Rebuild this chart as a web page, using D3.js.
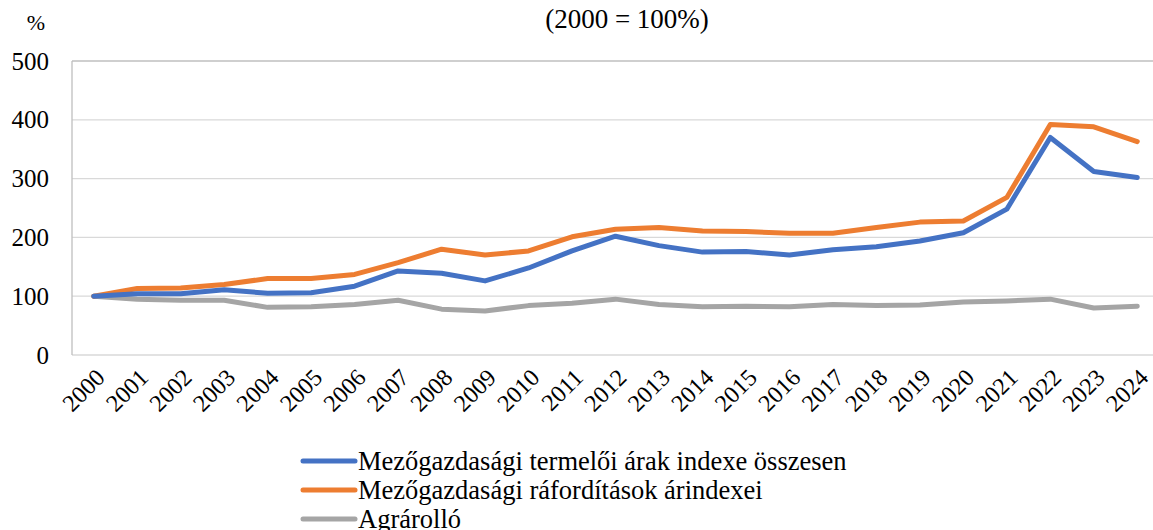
<!DOCTYPE html>
<html>
<head>
<meta charset="utf-8">
<script src="https://cdn.jsdelivr.net/npm/d3@7"></script>
<style>
  body { margin: 0; background: #fff; }
  svg, svg text { font-family: "Liberation Serif", "Tinos", "Times New Roman", "DejaVu Serif", serif !important; }
</style>
</head>
<body>
<svg id="chart"></svg>
<script>
const width = 1153;
const height = 530;
const margin = { top: 61, right: -6, bottom: 175, left: 72 };

const years = ["2000", "2001", "2002", "2003", "2004", "2005", "2006", "2007", "2008", "2009",
               "2010", "2011", "2012", "2013", "2014", "2015", "2016", "2017", "2018", "2019",
               "2020", "2021", "2022", "2023", "2024"];

const producerIndex = [100, 104, 104, 111, 105, 106, 117, 143, 139, 126,
                       148, 177, 202, 186, 175, 176, 170, 179, 184, 194,
                       208, 248, 370, 312, 302];

const inputIndex = [100, 113, 114, 120, 130, 130, 137, 157, 180, 170,
                    177, 201, 214, 217, 211, 210, 207, 207, 217, 226,
                    228, 268, 392, 388, 363];

const scissors = [100, 95, 93, 93, 81, 82, 86, 93, 78, 75,
                  84, 88, 95, 86, 82, 83, 82, 86, 84, 85,
                  90, 92, 95, 80, 83];

const yTicks = [0, 100, 200, 300, 400, 500];

const series = [
  { name: "Mezőgazdasági termelői árak indexe összesen", values: producerIndex, color: "#4472C4" },
  { name: "Mezőgazdasági ráfordítások árindexei", values: inputIndex, color: "#ED7D31" },
  { name: "Agrárolló", values: scissors, color: "#A5A5A5" }
];

const svg = d3.select("#chart")
  .attr("width", width)
  .attr("height", height);

const plotW = width - margin.left - margin.right;
const plotH = height - margin.top - margin.bottom;

const g = svg.append("g")
  .attr("transform", "translate(" + margin.left + "," + margin.top + ")");

const xScale = d3.scalePoint()
  .domain(years)
  .range([0, plotW])
  .padding(0.5);

const yScale = d3.scaleLinear()
  .domain([0, 500])
  .range([plotH, 0]);

// gridlines
g.append("g")
  .selectAll("line")
  .data(yTicks)
  .enter()
  .append("line")
  .attr("x1", 0)
  .attr("x2", plotW)
  .attr("y1", d => yScale(d))
  .attr("y2", d => yScale(d))
  .attr("stroke", d => d === 500 ? "#bfbfbf" : "#d9d9d9")
  .attr("stroke-width", 1.3);

// left border
g.append("line")
  .attr("x1", 0).attr("x2", 0)
  .attr("y1", 0).attr("y2", plotH)
  .attr("stroke", "#bfbfbf")
  .attr("stroke-width", 1.3);

// y axis labels
const yAxis = d3.axisLeft(yScale).tickValues(yTicks).tickSize(0).tickPadding(23);
g.append("g")
  .attr("id", "y-axis")
  .call(yAxis)
  .call(a => a.select(".domain").remove())
  .selectAll("text")
  .attr("font-size", 25)
  .attr("fill", "#000");

// x axis labels
const xAxis = d3.axisBottom(xScale).tickSize(0).tickPadding(0);
g.append("g")
  .attr("id", "x-axis")
  .attr("transform", "translate(0," + plotH + ")")
  .call(xAxis)
  .call(a => a.select(".domain").remove())
  .selectAll("text")
  .attr("font-size", 24)
  .attr("fill", "#000")
  .attr("text-anchor", "end")
  .attr("dy", 0)
  .attr("transform", "translate(12,24) rotate(-45)");

// lines
const line = d3.line()
  .x((d, i) => xScale(years[i]))
  .y(d => yScale(d));

g.append("g")
  .selectAll("path")
  .data(series.slice().reverse())
  .enter()
  .append("path")
  .attr("d", d => line(d.values))
  .attr("fill", "none")
  .attr("stroke", d => d.color)
  .attr("stroke-width", 5)
  .attr("stroke-linejoin", "round")
  .attr("stroke-linecap", "round");

// titles
svg.append("text")
  .attr("x", 627)
  .attr("y", 28)
  .attr("text-anchor", "middle")
  .attr("font-size", 27)
  .text("(2000 = 100%)");

svg.append("text")
  .attr("x", 36)
  .attr("y", 30)
  .attr("text-anchor", "middle")
  .attr("font-size", 22)
  .text("%");

// legend
const legend = svg.append("g")
  .attr("id", "legend")
  .attr("transform", "translate(301,461)");

const rows = legend.selectAll("g")
  .data(series)
  .enter()
  .append("g")
  .attr("transform", (d, i) => "translate(0," + i * 29 + ")");

rows.append("line")
  .attr("x1", 2).attr("x2", 54)
  .attr("y1", 0).attr("y2", 0)
  .attr("stroke", d => d.color)
  .attr("stroke-width", 5)
  .attr("stroke-linecap", "round");

rows.append("text")
  .attr("x", 57)
  .attr("y", 9)
  .attr("font-size", 26.5)
  .text(d => d.name);
</script>
</body>
</html>
